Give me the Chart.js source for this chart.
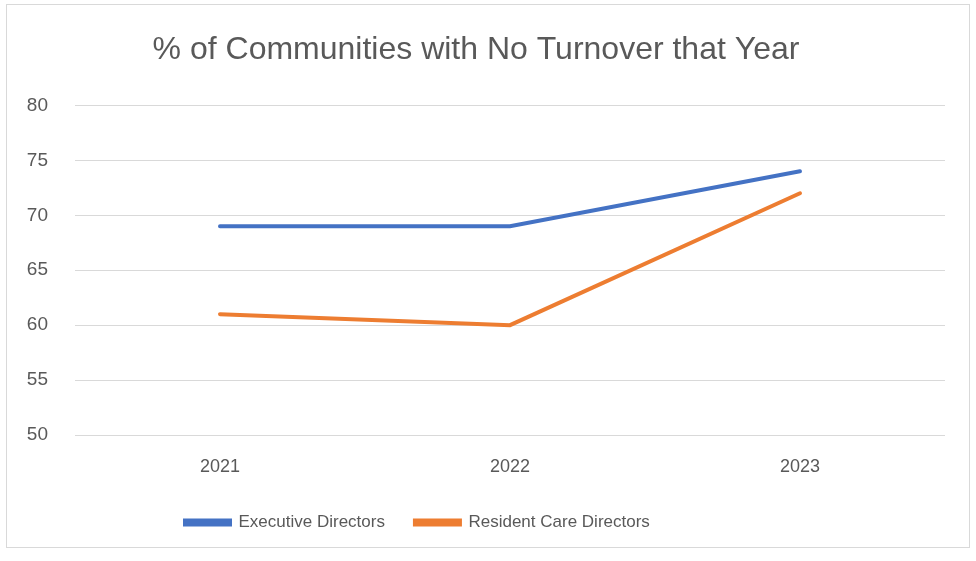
<!DOCTYPE html>
<html>
<head>
<meta charset="utf-8">
<script src="https://cdn.jsdelivr.net/npm/chart.js@4.4.1/dist/chart.umd.min.js"></script>
<style>
  html, body { margin: 0; padding: 0; background: #fff; }
  #box { position: absolute; left: 6px; top: 4px; width: 962px; height: 542px; border: 1px solid #d9d9d9; }
  canvas { display: block; }
</style>
</head>
<body>
<div id="box"><canvas id="line_turnover" width="962" height="542"></canvas></div>
<script>
const years = ["2021", "2022", "2023"];
const executiveDirectors = [69, 69, 74];
const residentCareDirectors = [61, 60, 72];
const yTicks = [50, 55, 60, 65, 70, 75, 80];

const FONT = "'Liberation Sans', Arial, sans-serif";
const GREY = "#595959";

// Excel puts the legend a bit left of centre, shift it over
const legendShift = {
    id: "legendShift",
    afterLayout(chart) {
        chart.legend.left += 148;
        chart.legend.right += 148;
    }
};

const config_turnover = {
    type: "line",
    data: {
        labels: years,
        datasets: [
            {
                label: "Executive Directors",
                data: executiveDirectors,
                borderColor: "#4472c4",
                backgroundColor: "#4472c4",
                borderWidth: 4,
                pointRadius: 0,
                borderCapStyle: "round",
                tension: 0
            },
            {
                label: "Resident Care Directors",
                data: residentCareDirectors,
                borderColor: "#ed7d31",
                backgroundColor: "#ed7d31",
                borderWidth: 4,
                pointRadius: 0,
                borderCapStyle: "round",
                tension: 0
            }
        ]
    },
    options: {
        responsive: false,
        animation: false,
        layout: { padding: { left: 0, right: 24, top: 0, bottom: 6 } },
        plugins: {
            title: {
                display: true,
                text: "% of Communities with No Turnover that Year",
                color: GREY,
                font: { family: FONT, size: 32, weight: "normal" },
                padding: { top: 26, bottom: 36 }
            },
            legend: {
                position: "bottom",
                align: "start",
                labels: {
                    color: GREY,
                    font: { family: FONT, size: 17 },
                    boxWidth: 45,
                    boxHeight: 4,
                    padding: 30
                }
            },
            tooltip: { enabled: false }
        },
        scales: {
            x: {
                offset: true,
                afterFit(scale) { scale.height = 49; },
                grid: { display: false },
                border: { display: false },
                ticks: { color: GREY, font: { family: FONT, size: 18 }, padding: 13 }
            },
            y: {
                min: 50,
                max: 80,
                afterFit(scale) { scale.width = 68; },
                afterBuildTicks(scale) { scale.ticks = yTicks.map(v => ({ value: v })); },
                grid: { color: "#d9d9d9", lineWidth: 1, drawTicks: false },
                border: { display: false },
                ticks: { color: GREY, font: { family: FONT, size: 19 }, padding: 27 }
            }
        }
    },
    plugins: [legendShift]
};

const ctx_turnover = document.getElementById("line_turnover").getContext("2d");
const myChart_turnover = new Chart(ctx_turnover, config_turnover);
</script>
</body>
</html>
